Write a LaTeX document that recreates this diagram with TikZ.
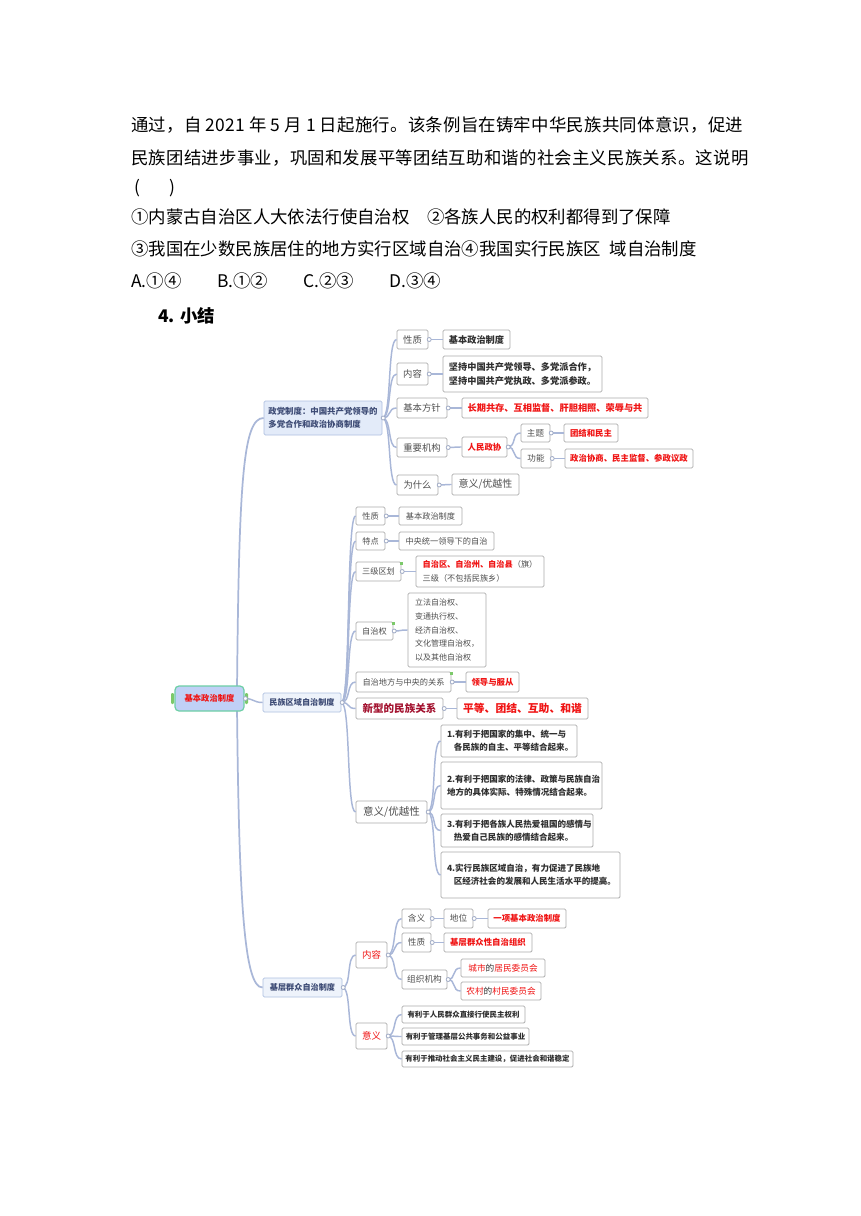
\documentclass[tikz,border=0pt]{standalone}
\usepackage{fontspec}
\setmainfont{Noto Sans CJK SC}
\definecolor{labc}{HTML}{4F4F4F}
\definecolor{valc}{HTML}{303030}
\definecolor{redc}{HTML}{F01414}
\definecolor{dred}{HTML}{A3122F}
\definecolor{navy}{HTML}{3D4B75}
\definecolor{linec}{HTML}{A9B7D8}
\definecolor{boxc}{HTML}{ABABAB}
\definecolor{bluef}{HTML}{E3EBF9}
\definecolor{blueb}{HTML}{AFC0E0}
\definecolor{lightf}{HTML}{EEF3FB}
\definecolor{rootf}{HTML}{C0D0F6}
\definecolor{rootb}{HTML}{6DCFA6}
\definecolor{greenm}{HTML}{7CC96A}
\newcommand\mmbox[7]{\node[mm,#6,minimum width={(#4-#2)*0.75pt},minimum height={(#5-#3)*0.75pt}] (#1) at ({(#2+#4)/2},{(#3+#5)/2}) {#7};}
\newcommand\lnk[2]{\draw[conn] (#1.east) to (#2.west);}
\newcommand\knob[1]{\draw[knobst] ([xshift=0.6pt]#1.east) circle (1.5pt);}
\begin{document}
\begin{tikzpicture}[x=0.75pt,y=-0.75pt,
  mm/.style={draw=boxc, fill=white, inner sep=0pt, rounded corners=1pt, align=center, text=labc, line width=0.6pt},
  conn/.style={draw=linec, line width=1.1pt, out=0, in=180, distance=7pt},
  trunk/.style={draw=linec, line width=1.3pt},
  knobst/.style={draw=linec!80!gray, fill=white, line width=0.6pt},
  body/.style={anchor=west, inner sep=0pt, text=black, font=\fontsize{13.05}{16}\selectfont},
  Lone/.style={font=\fontsize{7}{9}\selectfont},
  Vone/.style={font=\fontsize{6.9}{10.5}\selectfont\bfseries, text=valc},
  Rone/.style={font=\fontsize{6.9}{9}\selectfont\bfseries, text=redc},
  Rsm/.style={font=\fontsize{6.3}{8}\selectfont\bfseries, text=redc},
  Lsm/.style={font=\fontsize{6.4}{8}\selectfont},
  Ltwo/.style={font=\fontsize{6.15}{8}\selectfont},
  Lbig/.style={font=\fontsize{7.9}{9}\selectfont},
  Item/.style={font=\fontsize{6.4}{10}\selectfont\bfseries, text=valc, align=left},
  Lthree/.style={font=\fontsize{6.5}{8}\selectfont},
  Rthree/.style={font=\fontsize{7.1}{8}\selectfont, text=redc},
  Ismall/.style={font=\fontsize{5.6}{7}\selectfont\bfseries, text=valc},
  topic/.style={fill=lightf, draw=blueb, text=navy, font=\fontsize{6.1}{8}\selectfont\bfseries}
]
\fill[white] (0,0) rectangle (860,1216);
\useasboundingbox (0,0) rectangle (860,1216);

% ---------- text of the question ----------
\node[body] (t1) at (131,125) {\addfontfeature{LetterSpace=1.4}通过，自 2021 年 5 月 1 日起施行。该条例旨在铸牢中华民族共同体意识，促进};
\node[body] (t2) at (131,158) {\addfontfeature{LetterSpace=1.4}民族团结进步事业，巩固和发展平等团结互助和谐的社会主义民族关系。这说明};
\node[body, anchor=center] (t3a) at (137,188) {(};
\node[body, anchor=center] (t3b) at (172,188) {)};
\node[body] (t4) at (131,217) {①内蒙古自治区人大依法行使自治权　②各族人民的权利都得到了保障};
\node[body] (t5) at (131,249) {③我国在少数民族居住的地方实行区域自治④我国实行民族区\hspace{0.5em}域自治制度};
\node[body] (t6a) at (131,281) {A.①④};
\node[body] (t6b) at (217,281) {B.①②};
\node[body] (t6c) at (303,281) {C.②③};
\node[body] (t6d) at (389,281) {D.③④};
\node[body, font=\fontsize{13.05}{16}\selectfont\bfseries] (t7) at (158,316) {4. 小结};

% ---------- trunk ----------
\coordinate (rt) at (237,690);
\coordinate (rb) at (237,707);

% ---------- section 1 ----------
\mmbox{zd}{264}{401}{382}{435}{fill=bluef, draw=blueb, text=navy, align=left, font=\fontsize{6.3}{10}\selectfont\bfseries}{政党制度：中国共产党领导的\\多党合作和政治协商制度}
\mmbox{a1}{397}{330}{428}{349}{Lone}{性质}
\mmbox{a1v}{443}{330}{510}{349}{Vone}{基本政治制度}
\mmbox{a2}{397}{363}{428}{385}{Lone}{内容}
\mmbox{a2v}{443}{356}{602}{392}{Vone, align=left}{坚持中国共产党领导、多党派合作，\\坚持中国共产党执政、多党派参政。}
\mmbox{a3}{397}{398}{447}{418}{Lone}{基本方针}
\mmbox{a3v}{462}{398}{648}{418}{Rone}{长期共存、互相监督、肝胆相照、荣辱与共}
\mmbox{a4}{397}{438}{447}{457}{Lone}{重要机构}
\mmbox{a4v}{462}{437}{507}{457}{Rsm}{人民政协}
\mmbox{a4a}{521}{424}{550}{442}{Lsm}{主题}
\mmbox{a4av}{564}{424}{618}{442}{Rsm}{团结和民主}
\mmbox{a4b}{521}{449}{551}{468}{Lsm}{功能}
\mmbox{a4bv}{565}{449}{693}{468}{Rsm}{政治协商、民主监督、参政议政}
\mmbox{a5}{397}{475}{438}{495}{Lone}{为什么}
\mmbox{a5v}{452}{474}{519}{495}{font=\fontsize{7.5}{9}\selectfont}{意义/优越性}

% ---------- section 2 ----------
\mmbox{mz}{263}{693}{341}{712}{topic}{民族区域自治制度}
\mmbox{n1}{356}{507}{385}{525}{Ltwo}{性质}
\mmbox{n1v}{399}{507}{462}{525}{Ltwo}{基本政治制度}
\mmbox{n2}{356}{532}{385}{550}{Ltwo}{特点}
\mmbox{n2v}{399}{532}{494}{550}{Ltwo}{中央统一领导下的自治}
\mmbox{n3}{356}{562}{401}{581}{Ltwo}{三级区划}
\mmbox{n3v}{416}{556}{544}{587}{font=\fontsize{6.15}{10}\selectfont, align=left}{\textcolor{redc}{\bfseries 自治区、自治州、自治县}（旗）\\三级（不包括民族乡）}
\mmbox{n4}{356}{622}{393}{640}{Ltwo}{自治权}
\mmbox{n4v}{408}{593}{486}{667}{font=\fontsize{6}{10.3}\selectfont, align=left}{立法自治权、\\变通执行权、\\经济自治权、\\文化管理自治权，\\以及其他自治权}
\mmbox{n5}{356}{672}{451}{692}{Ltwo}{自治地方与中央的关系}
\mmbox{n5v}{466}{672}{519}{692}{Rsm}{领导与服从}
\mmbox{n6}{356}{698}{443}{719}{font=\fontsize{7.9}{9}\selectfont\bfseries, text=dred}{新型的民族关系}
\mmbox{n6v}{457}{698}{588}{719}{font=\fontsize{8.1}{9}\selectfont\bfseries, text=redc}{平等、团结、互助、和谐}
\mmbox{n7}{356}{801}{427}{823}{Lbig}{意义/优越性}
\mmbox{n7a}{441}{725}{577}{757}{Item, text width=93pt}{1.有利于把国家的集中、统一与\\\hspace*{0.8em}各民族的自主、平等结合起来。}
\mmbox{n7b}{441}{762}{602}{809}{Item, text width=111.75pt}{2.有利于把国家的法律、政策与民族自治\\地方的具体实际、特殊情况结合起来。\\ }
\mmbox{n7c}{441}{814}{593}{847}{Item, text width=105pt}{3.有利于把各族人民热爱祖国的感情与\\\hspace*{0.8em}热爱自己民族的感情结合起来。}
\mmbox{n7d}{441}{852}{620}{898}{Item, text width=125.25pt}{4.实行民族区域自治，有力促进了民族地\\\hspace*{0.8em}区经济社会的发展和人民生活水平的提高。\\ }

% ---------- section 3 ----------
\mmbox{jc}{263}{978}{342}{997}{topic}{基层群众自治制度}
\mmbox{j1}{356}{942}{387}{968}{Rthree}{内容}
\mmbox{j1a}{402}{909}{431}{928}{Lthree}{含义}
\mmbox{j1a1}{444}{909}{473}{928}{Lthree}{地位}
\mmbox{j1a1v}{488}{909}{566}{928}{Rsm}{一项基本政治制度}
\mmbox{j1b}{402}{933}{431}{952}{Lthree}{性质}
\mmbox{j1bv}{444}{933}{532}{952}{Rsm}{基层群众性自治组织}
\mmbox{j1c}{402}{970}{447}{989}{Lthree}{组织机构}
\mmbox{j1c1}{461}{959}{545}{977}{Lthree, text=valc}{\textcolor{redc}{城市}的\textcolor{redc}{居民委员会}}
\mmbox{j1c2}{461}{982}{541}{1000}{Lthree, text=valc}{\textcolor{redc}{农村}的\textcolor{redc}{村民委员会}}
\mmbox{j2}{356}{1023}{387}{1049}{Rthree}{意义}
\mmbox{j2a}{402}{1006}{525}{1023}{Ismall}{有利于人民群众直接行使民主权利}
\mmbox{j2b}{402}{1028}{529}{1045}{Ismall}{有利于管理基层公共事务和公益事业}
\mmbox{j2c}{402}{1051}{573}{1067}{Ismall}{有利于推动社会主义民主建设，促进社会和谐稳定}

% ---------- connectors ----------
\draw[trunk] (rt) .. controls (239,480) and (243,418) .. (zd.west);
\draw[trunk] (rb) .. controls (239,900) and (244,988) .. (jc.west);

\foreach \c in {a1,a2,a3,a4,a5} {\draw[conn] (zd.east) to (\c.west);}
\lnk{a1}{a1v}\lnk{a2}{a2v}\lnk{a3}{a3v}\lnk{a4}{a4v}
\lnk{a4v}{a4a}\lnk{a4v}{a4b}\lnk{a4a}{a4av}\lnk{a4b}{a4bv}\lnk{a5}{a5v}
\foreach \c in {n1,n2,n3,n4,n5,n6,n7} {\draw[conn] (mz.east) to (\c.west);}
\lnk{n1}{n1v}\lnk{n2}{n2v}\lnk{n3}{n3v}\lnk{n4}{n4v}\lnk{n5}{n5v}\lnk{n6}{n6v}
\foreach \c in {n7a,n7b,n7c,n7d} {\draw[conn] (n7.east) to (\c.west);}
\lnk{jc}{j1}\lnk{jc}{j2}
\lnk{j1}{j1a}\lnk{j1}{j1b}\lnk{j1}{j1c}\lnk{j1a}{j1a1}\lnk{j1a1}{j1a1v}\lnk{j1b}{j1bv}
\lnk{j1c}{j1c1}\lnk{j1c}{j1c2}
\lnk{j2}{j2a}\lnk{j2}{j2b}\lnk{j2}{j2c}

% ---------- root ----------
\mmbox{root}{175}{686}{244}{711}{fill=rootf, draw=rootb, line width=0.9pt, rounded corners=3pt, text=redc, font=\fontsize{6.2}{8}\selectfont\bfseries}{基本政治制度}
\lnk{root}{mz}
\fill[greenm, rounded corners=0.8pt] (171,693) rectangle (174,704);
\fill[greenm, rounded corners=0.8pt] (245,693) rectangle (248,704);

% ---------- knobs ----------
\foreach \c in {zd,a1,a2,a3,a4,a4v,a4a,a4b,a5,mz,n1,n2,n3,n4,n5,n6,n7,root,jc,j1,j1a,j1a1,j1b,j1c,j2} {\knob{\c}}
\fill[greenm] ([xshift=-1pt,yshift=-0.5pt]n3.north east) rectangle ++(2.5,2.5);
\fill[greenm] ([xshift=-1pt,yshift=-0.5pt]n4.north east) rectangle ++(2.5,2.5);
\fill[greenm] ([xshift=-1pt,yshift=-0.5pt]n5.north east) rectangle ++(2.5,2.5);
\end{tikzpicture}
\end{document}
